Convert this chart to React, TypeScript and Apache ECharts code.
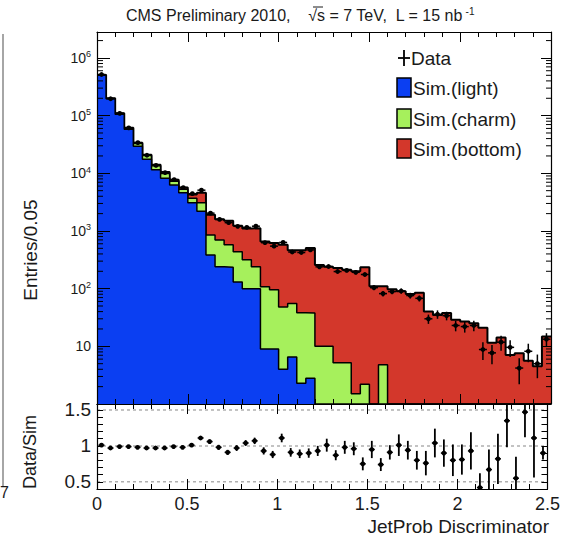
import React, { useEffect, useRef } from 'react';
import * as echarts from 'echarts';

// ---- data (bin width 0.05, 50 bins from 0 to 2.5) ----
const binWidth = 0.05;
const xTicks = [0, 0.5, 1, 1.5, 2, 2.5];
const light = [500000, 196000, 106000, 58000, 29500, 17500, 11500, 8200, 6300, 4600, 3100, 2200,
  385, 240, 235, 130, 100, 100, 9, 9, 4, 6.5, 2.3, 2.8,
  0, 0, 0, 0, 0, 0, 0, 0, 0, 0, 0, 0, 0, 0, 0, 0, 0, 0, 0, 0, 0, 0, 0, 0, 0, 0];
const charm = [5000, 3000, 2500, 2500, 3500, 2800, 2000, 1700, 1000, 700, 600, 900,
  470, 460, 340, 305, 218, 140, 99, 87, 44, 49, 36, 35,
  10, 10, 5.2, 5.2, 1.5, 2.2, 0, 4.8,
  0, 0, 0, 0, 0, 0, 0, 0, 0, 0, 0, 0, 0, 0, 0, 0, 0, 0];
const bottom = [1500, 1000, 1000, 1000, 1000, 700, 500, 600, 400, 350, 600, 1500,
  1050, 900, 925, 795, 782, 880, 552, 524, 527, 410, 427, 467,
  247, 230, 223, 208, 199, 233, 110, 105, 98, 90, 81, 85,
  40, 35, 38, 29, 27, 25, 21, 11.5, 14.2, 7.1, 7.6, 5.6, 4.5, 14.8];
const dataCounts = [516600, 196000, 109500, 61500, 34000, 20580, 13720, 10290, 7780, 5650, 4430, 5100,
  2040, 1585, 1395, 1205, 1155, 1210, 627, 546, 633, 432, 423, 470,
  239, 242, 198, 207, 192, 176, 104, 82, 89, 91, 76, 68,
  30, 36, 34, 23, 22, 23, 8.8, 7.7, 11.8, 9.6, 4.2, 8.2, 5.0, 13.3];
const dataErr = [720, 440, 330, 250, 185, 143, 117, 101, 88, 75, 67, 71,
  45, 40, 37, 35, 34, 35, 25, 23, 25, 21, 21, 22,
  15, 16, 14, 14, 14, 13, 10, 9, 9.4, 9.5, 8.7, 8.2,
  5.5, 6, 5.8, 4.8, 4.7, 4.8, 3, 2.8, 3.4, 3.1, 2, 2.9, 2.2, 3.6];
const ratio = [1.01, 0.97, 0.99, 0.99, 0.98, 0.97, 0.97, 0.97, 0.99, 0.98, 1.01, 1.11,
  1.06, 0.98, 0.91, 0.97, 1.04, 1.07, 0.93, 0.88, 1.11, 0.91, 0.89, 0.90,
  0.93, 1.01, 0.87, 0.98, 0.96, 0.75, 0.95, 0.74, 0.91, 1.01, 0.94, 0.80,
  0.76, 1.04, 0.90, 0.80, 0.81, 0.93, 0.42, 0.67, 0.82, 1.35, 0.55, 1.47, 1.11, 0.90];
const ratioErr = [0.01, 0.01, 0.01, 0.01, 0.01, 0.01, 0.01, 0.015, 0.015, 0.015, 0.02, 0.02,
  0.03, 0.035, 0.035, 0.04, 0.04, 0.045, 0.05, 0.05, 0.06, 0.06, 0.06, 0.065,
  0.07, 0.09, 0.07, 0.09, 0.09, 0.09, 0.12, 0.09, 0.1, 0.15, 0.13, 0.13,
  0.17, 0.2, 0.19, 0.22, 0.21, 0.26, 0.2, 0.28, 0.35, 0.37, 0.3, 0.35, 0.55, 0.09];
const ratioRefLines = [0.5, 1, 1.5];
const logDecades = [0, 1, 2, 3, 4, 5, 6];

const BLUE = '#0b3ff2';
const GREEN = '#a6f05c';
const RED = '#d3372b';
const FONT = 'Liberation Sans, Arial, Helvetica, sans-serif';
const INK = '#1a1a1a';

const lg = (v: number) => Math.log10(Math.max(v, 1));

export default function App() {
  const ref = useRef<HTMLDivElement>(null);
  useEffect(() => {
    const chart = echarts.init(ref.current!, null, { renderer: 'svg' });
    const n = light.length;
    const lc = light.map((v, i) => v + charm[i]);
    const total = lc.map((v, i) => v + bottom[i]);
    const stepPts = (vals: number[]) => {
      const pts = vals.map((v, i) => [i * binWidth, lg(v)]);
      pts.push([n * binWidth, lg(vals[n - 1])]);
      return pts;
    };
    const minorLog: number[][] = [];
    logDecades.forEach((d) => {
      for (let k = 2; k <= 9; k++) {
        const l = d + Math.log10(k);
        if (l < 6.45) minorLog.push([0, l]);
      }
    });

    const axLine = { show: true, onZero: false, lineStyle: { color: '#000', width: 1.2 } };
    const tickStyle = { color: '#000', width: 1 };
    const xAx = (grid: number, pos: string, labels: boolean) => ({
      gridIndex: grid, type: 'value', min: 0, max: 2.5, interval: 0.5, position: pos, z: 10,
      axisLine: axLine,
      axisTick: { show: true, inside: true, length: 10, lineStyle: tickStyle },
      minorTick: { show: true, splitNumber: 5, length: 5, lineStyle: tickStyle },
      splitLine: { show: false },
      axisLabel: labels
        ? {
            show: true, fontSize: 18, fontFamily: FONT, color: INK, margin: 6,
            showMinLabel: true, showMaxLabel: true,
            formatter: (v: number) => (xTicks.some((t) => Math.abs(t - v) < 1e-9) ? String(+v.toFixed(2)) : ''),
          }
        : { show: false },
    });
    const txt = (text: string, x: number, y: number, fontSize: number, extra: any = {}) => ({
      type: 'text', z: 20, x, y,
      style: { text, fontSize, fontFamily: FONT, fill: INK, verticalAlign: 'middle', ...extra },
    });

    const option: any = {
      animation: false,
      backgroundColor: '#fff',
      grid: [
        { left: 97, top: 32, width: 454, height: 372 },
        { left: 97, top: 404, width: 454, height: 85 },
      ],
      xAxis: [xAx(0, 'bottom', false), xAx(0, 'top', false), xAx(1, 'bottom', true), xAx(1, 'top', false)],
      yAxis: [
        {
          gridIndex: 0, type: 'value', min: 0, max: 6.45, interval: 1, position: 'left', z: 10,
          axisLine: axLine,
          axisTick: { show: true, inside: true, length: 13, lineStyle: tickStyle },
          splitLine: { show: false },
          axisLabel: {
            show: true, margin: 6, color: INK, fontFamily: FONT, showMaxLabel: false,
            formatter: (v: number) => {
              const d = Math.round(v);
              if (Math.abs(v - d) > 1e-6 || d === 0) return '';
              if (d === 1) return '{b|10}';
              return `{b|10}{s|${d}}`;
            },
            rich: {
              b: { fontSize: 14, fontFamily: FONT, color: INK, lineHeight: 16 },
              s: { fontSize: 9, fontFamily: FONT, color: INK, lineHeight: 9, verticalAlign: 'top' },
            },
          },
        },
        {
          gridIndex: 0, type: 'value', min: 0, max: 6.45, interval: 1, position: 'right', z: 10,
          axisLine: axLine,
          axisTick: { show: true, inside: true, length: 10, lineStyle: tickStyle },
          splitLine: { show: false }, axisLabel: { show: false },
        },
        {
          gridIndex: 1, type: 'value', min: 0.4, max: 1.583, interval: 0.1, position: 'left', z: 10,
          axisLine: axLine,
          axisTick: { show: true, inside: true, length: 6, lineStyle: tickStyle },
          splitLine: { show: false },
          axisLabel: {
            show: true, fontSize: 19, fontFamily: FONT, color: INK, margin: 6,
            formatter: (v: number) => {
              const t = ratioRefLines.find((r) => Math.abs(r - v) < 1e-6);
              return t === undefined ? '' : String(t);
            },
          },
        },
        {
          gridIndex: 1, type: 'value', min: 0.4, max: 1.583, interval: 0.1, position: 'right', z: 10,
          axisLine: axLine,
          axisTick: { show: true, inside: true, length: 6, lineStyle: tickStyle },
          splitLine: { show: false }, axisLabel: { show: false },
        },
      ],
      series: [
        {
          type: 'line', xAxisIndex: 0, yAxisIndex: 0, step: 'end', symbol: 'none', data: stepPts(total),
          lineStyle: { color: '#000', width: 2 }, areaStyle: { color: RED, opacity: 1, origin: 'start' }, z: 2,
        },
        {
          type: 'line', xAxisIndex: 0, yAxisIndex: 0, step: 'end', symbol: 'none', data: stepPts(lc),
          lineStyle: { color: '#000', width: 1.5 }, areaStyle: { color: GREEN, opacity: 1, origin: 'start' }, z: 3,
        },
        {
          type: 'line', xAxisIndex: 0, yAxisIndex: 0, step: 'end', symbol: 'none', data: stepPts(light),
          lineStyle: { color: '#000', width: 1.5 }, areaStyle: { color: BLUE, opacity: 1, origin: 'start' }, z: 4,
        },
        {
          // minor log ticks (2..9 x 10^n) on left and right frame
          type: 'custom', xAxisIndex: 0, yAxisIndex: 0, z: 12, silent: true, clip: false,
          data: minorLog,
          renderItem: (params: any, api: any) => {
            const l = api.value(1);
            const a = api.coord([0, l]);
            const b = api.coord([2.5, l]);
            return {
              type: 'group',
              children: [
                { type: 'line', shape: { x1: a[0], y1: a[1], x2: a[0] + 6, y2: a[1] }, style: { stroke: '#000', lineWidth: 1 } },
                { type: 'line', shape: { x1: b[0], y1: b[1], x2: b[0] - 5, y2: b[1] }, style: { stroke: '#000', lineWidth: 1 } },
              ],
            };
          },
        },
        {
          // data points in main panel
          type: 'custom', xAxisIndex: 0, yAxisIndex: 0, z: 13, silent: true, clip: true,
          data: dataCounts.map((v, i) => [(i + 0.5) * binWidth, lg(v), lg(v + dataErr[i]), lg(v - dataErr[i])]),
          renderItem: (params: any, api: any) => {
            const x = api.value(0);
            const p = api.coord([x, api.value(1)]);
            const t = api.coord([x, api.value(2)]);
            const b = api.coord([x, api.value(3)]);
            return {
              type: 'group',
              children: [
                { type: 'line', shape: { x1: p[0], y1: t[1], x2: p[0], y2: b[1] }, style: { stroke: '#000', lineWidth: 1.5 } },
                { type: 'line', shape: { x1: p[0] - 4, y1: p[1], x2: p[0] + 4, y2: p[1] }, style: { stroke: '#000', lineWidth: 1.5 } },
                { type: 'circle', shape: { cx: p[0], cy: p[1], r: 2.4 }, style: { fill: '#000' } },
              ],
            };
          },
        },
        {
          // dashed reference lines in ratio panel
          type: 'custom', xAxisIndex: 2, yAxisIndex: 2, z: 5, silent: true,
          data: ratioRefLines.map((r) => [0, r]),
          renderItem: (params: any, api: any) => {
            const a = api.coord([0, api.value(1)]);
            const b = api.coord([2.5, api.value(1)]);
            return {
              type: 'line', shape: { x1: a[0], y1: a[1], x2: b[0], y2: b[1] },
              style: { stroke: '#b0b0b0', lineWidth: 1.5, lineDash: [3, 3] },
            };
          },
        },
        {
          // ratio points
          type: 'custom', xAxisIndex: 2, yAxisIndex: 2, z: 13, silent: true, clip: true,
          data: ratio.map((r, i) => [(i + 0.5) * binWidth, r, r + ratioErr[i], r - ratioErr[i]]),
          renderItem: (params: any, api: any) => {
            const x = api.value(0);
            const p = api.coord([x, api.value(1)]);
            const t = api.coord([x, api.value(2)]);
            const b = api.coord([x, api.value(3)]);
            return {
              type: 'group',
              children: [
                { type: 'line', shape: { x1: p[0], y1: t[1], x2: p[0], y2: b[1] }, style: { stroke: '#000', lineWidth: 1.8 } },
                { type: 'line', shape: { x1: p[0] - 3, y1: p[1], x2: p[0] + 3, y2: p[1] }, style: { stroke: '#000', lineWidth: 1.5 } },
                { type: 'circle', shape: { cx: p[0], cy: p[1], r: 2.4 }, style: { fill: '#000' } },
              ],
            };
          },
        },
      ],
      graphic: [
        {
          type: 'text', x: 300, y: 15, z: 20,
          style: {
            text: '{t|CMS Preliminary 2010,    √s = 7 TeV,  L = 15 nb}{s| -1}',
            align: 'center', verticalAlign: 'middle',
            rich: {
              t: { fontSize: 16, fontFamily: FONT, fill: INK, color: INK, lineHeight: 18 },
              s: { fontSize: 10, fontFamily: FONT, fill: INK, color: INK, lineHeight: 10, verticalAlign: 'top' },
            },
          },
        },
        // overline of the square root over "s"
        { type: 'line', z: 20, shape: { x1: 313, y1: 7, x2: 323, y2: 7 }, style: { stroke: INK, lineWidth: 1 } },
        // legend
        { type: 'line', z: 20, shape: { x1: 398, y1: 58, x2: 410, y2: 58 }, style: { stroke: '#000', lineWidth: 1.8 } },
        { type: 'line', z: 20, shape: { x1: 404, y1: 50, x2: 404, y2: 66 }, style: { stroke: '#000', lineWidth: 1.8 } },
        txt('Data', 411, 58, 19),
        { type: 'rect', z: 20, shape: { x: 397, y: 78, width: 14, height: 19 }, style: { fill: BLUE, stroke: '#000', lineWidth: 1.5 } },
        txt('Sim.(light)', 413, 88, 19),
        { type: 'rect', z: 20, shape: { x: 397, y: 109, width: 14, height: 19 }, style: { fill: GREEN, stroke: '#000', lineWidth: 1.5 } },
        txt('Sim.(charm)', 413, 119, 19),
        { type: 'rect', z: 20, shape: { x: 397, y: 139, width: 14, height: 19 }, style: { fill: RED, stroke: '#000', lineWidth: 1.5 } },
        txt('Sim.(bottom)', 413, 149, 19),
        // axis titles
        { ...txt('Entries/0.05', 30, 250, 19, { align: 'center' }), rotation: Math.PI / 2 },
        { ...txt('Data/Sim', 30, 452, 18, { align: 'center' }), rotation: Math.PI / 2 },
        txt('JetProb Discriminator', 549, 526, 19, { align: 'right' }),
        // cropped neighbour plot edge at left
        { type: 'line', z: 20, shape: { x1: 3, y1: 34, x2: 3, y2: 486 }, style: { stroke: '#888', lineWidth: 1.5 } },
        txt('7', 0, 492, 16),
      ],
    };
    chart.setOption(option);
    return () => chart.dispose();
  }, []);
  return (
    <div
      ref={ref}
      style={{ position: 'fixed', left: 0, top: 0, width: 563, height: 536, background: '#fff' }}
    />
  );
}
